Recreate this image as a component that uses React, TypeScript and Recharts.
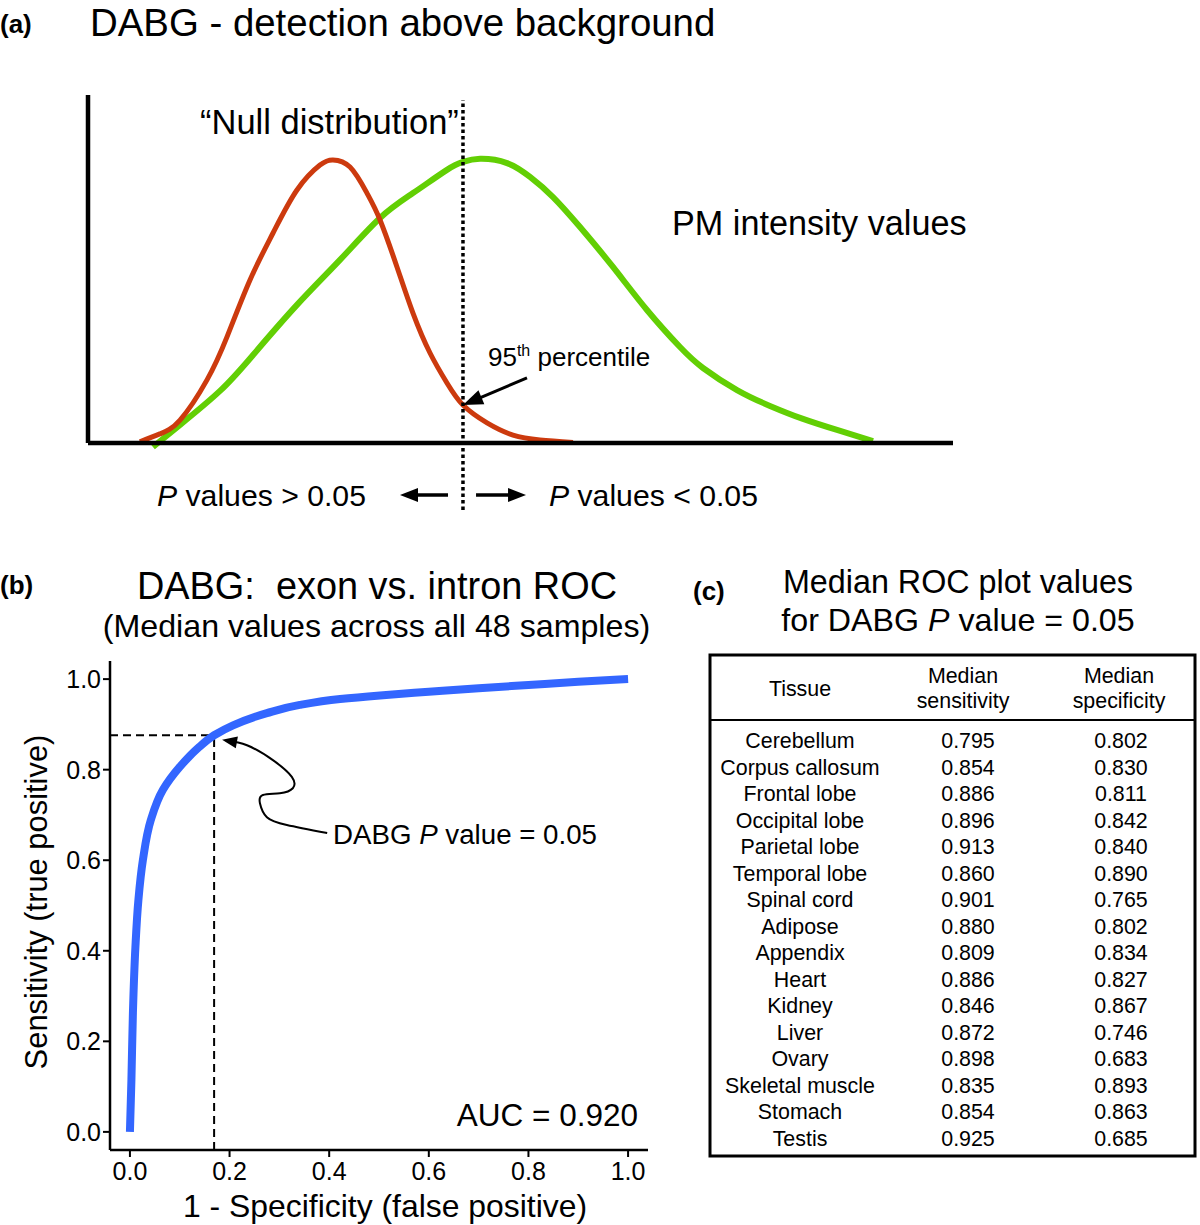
import React from 'react';
import { LineChart, Line, XAxis, YAxis, ReferenceLine, ReferenceDot } from 'recharts';

const FONT = '"Liberation Sans", Arial, Helvetica, sans-serif';

// ---------- Panel (a): density curves (arbitrary intensity units, normalised density) ----------
const intensityNull = [0.6, 0.83, 1.064, 1.376, 1.607, 1.873, 2.139, 2.416, 2.682, 2.832, 3.029, 3.225, 3.376, 3.572, 3.757, 3.954, 4.15, 4.335, 4.613, 4.913, 5.225, 5.607];
const densityNull = [0.004, 0.032, 0.081, 0.223, 0.375, 0.576, 0.742, 0.894, 0.982, 1.0, 0.975, 0.883, 0.788, 0.622, 0.459, 0.318, 0.212, 0.134, 0.071, 0.028, 0.011, 0.002];
const intensityPM = [0.751, 1.064, 1.526, 1.908, 2.416, 2.913, 3.376, 3.757, 4.15, 4.335, 4.532, 4.844, 5.11, 5.376, 5.688, 6.069, 6.462, 6.844, 7.11, 7.503, 7.884, 8.266, 8.659, 9.075];
const densityPM = [-0.014, 0.064, 0.184, 0.311, 0.488, 0.647, 0.795, 0.883, 0.965, 0.993, 1.004, 0.989, 0.94, 0.869, 0.763, 0.622, 0.47, 0.339, 0.265, 0.187, 0.131, 0.085, 0.046, 0.007];
const percentile95 = 4.335;
const percentile95Density = 0.134;

// ---------- Panel (b): ROC curve ----------
const rocFPR = [0, 0.003, 0.006, 0.011, 0.017, 0.026, 0.042, 0.066, 0.1, 0.139, 0.169, 0.207, 0.275, 0.341, 0.422, 0.502, 0.6, 0.7, 0.8, 0.9, 1.0];
const rocTPR = [0, 0.115, 0.263, 0.408, 0.512, 0.6, 0.689, 0.755, 0.806, 0.85, 0.876, 0.898, 0.925, 0.943, 0.956, 0.964, 0.972, 0.98, 0.987, 0.994, 1.0];
const cutoffFPR = 0.169;
const cutoffTPR = 0.876;
const rocTicks = [0, 0.2, 0.4, 0.6, 0.8, 1.0];
const calloutFPR = [0.396, 0.315, 0.275, 0.261, 0.267, 0.301, 0.327, 0.325, 0.287, 0.235, 0.195];
const calloutTPR = [0.66, 0.678, 0.695, 0.726, 0.744, 0.748, 0.759, 0.784, 0.821, 0.854, 0.864];
const calloutTipFPR = 0.185;
const calloutTipTPR = 0.866;

// ---------- Panel (c): table ----------
const tissues = ['Cerebellum', 'Corpus callosum', 'Frontal lobe', 'Occipital lobe', 'Parietal lobe', 'Temporal lobe', 'Spinal cord', 'Adipose', 'Appendix', 'Heart', 'Kidney', 'Liver', 'Ovary', 'Skeletal muscle', 'Stomach', 'Testis'];
const medianSensitivity = [0.795, 0.854, 0.886, 0.896, 0.913, 0.86, 0.901, 0.88, 0.809, 0.886, 0.846, 0.872, 0.898, 0.835, 0.854, 0.925];
const medianSpecificity = [0.802, 0.83, 0.811, 0.842, 0.84, 0.89, 0.765, 0.802, 0.834, 0.827, 0.867, 0.746, 0.683, 0.893, 0.863, 0.685];

const nullData = intensityNull.map((x, i) => ({ x, y: densityNull[i] }));
const pmData = intensityPM.map((x, i) => ({ x, y: densityPM[i] }));
const rocData = rocFPR.map((x, i) => ({ x, y: rocTPR[i] }));
const calloutData = calloutFPR.map((x, i) => ({ x, y: calloutTPR[i] }));

const RED = '#cc3a0e';
const GREEN = '#62cf04';
const BLUE = '#3366ff';

const arrowHead = (angle: number, len = 16, w = 12) => (props: any) => {
  const { cx, cy } = props;
  if (cx == null || cy == null) return <g />;
  return (
    <polygon
      points={`0,0 ${-len},${-w / 2} ${-len},${w / 2}`}
      transform={`translate(${cx},${cy}) rotate(${angle})`}
      fill="#000"
    />
  );
};

const PanelA = () => (
  <div style={{ position: 'absolute', left: 0, top: 0 }}>
    <LineChart width={1200} height={540} margin={{ top: 90, right: 247, bottom: 20, left: 88 }}>
      <XAxis type="number" dataKey="x" domain={[0, 10]} hide allowDataOverflow />
      <YAxis type="number" domain={[-0.2721, 1.2473]} hide allowDataOverflow />
      <Line data={pmData} dataKey="y" type="natural" stroke={GREEN} strokeWidth={6} dot={false} activeDot={false} isAnimationActive={false} />
      <Line data={nullData} dataKey="y" type="natural" stroke={RED} strokeWidth={5} dot={false} activeDot={false} isAnimationActive={false} />
      <ReferenceLine segment={[{ x: 0, y: 0 }, { x: 0, y: 1.23 }]} stroke="#000" strokeWidth={4.5} ifOverflow="visible" />
      <ReferenceLine segment={[{ x: 0, y: 0 }, { x: 10, y: 0 }]} stroke="#000" strokeWidth={4.5} ifOverflow="visible" />
      <ReferenceLine segment={[{ x: percentile95, y: -0.237 }, { x: percentile95, y: 1.212 }]} stroke="#000" strokeWidth={3.5} strokeDasharray="3.5 3" ifOverflow="visible" />
      <ReferenceLine segment={[{ x: 5.075, y: 0.2297 }, { x: percentile95 + 0.12, y: percentile95Density + 0.016 }]} stroke="#000" strokeWidth={3} ifOverflow="visible" />
      <ReferenceDot x={percentile95} y={percentile95Density} r={0} shape={arrowHead(157, 20, 15)} ifOverflow="visible" />
      <ReferenceLine segment={[{ x: 4.162, y: -0.1837 }, { x: 3.75, y: -0.1837 }]} stroke="#000" strokeWidth={3.5} ifOverflow="visible" />
      <ReferenceDot x={3.607} y={-0.1837} r={0} shape={arrowHead(180, 18, 14)} ifOverflow="visible" />
      <ReferenceLine segment={[{ x: 4.486, y: -0.1837 }, { x: 4.92, y: -0.1837 }]} stroke="#000" strokeWidth={3.5} ifOverflow="visible" />
      <ReferenceDot x={5.064} y={-0.1837} r={0} shape={arrowHead(0, 18, 14)} ifOverflow="visible" />
    </LineChart>
  </div>
);

const axisTick = { fontSize: 25, fill: '#000', fontFamily: FONT };

const PanelB = () => (
  <div style={{ position: 'absolute', left: 0, top: 640 }}>
    <LineChart width={700} height={580} margin={{ top: 21, right: 52, bottom: 0, left: 0 }}>
      <XAxis
        type="number"
        dataKey="x"
        domain={[-0.04, 1.04]}
        ticks={rocTicks}
        interval={0}
        tickFormatter={(v: number) => v.toFixed(1)}
        allowDataOverflow
        height={70}
        tickSize={7}
        tickMargin={5}
        tick={axisTick}
        axisLine={{ stroke: '#000', strokeWidth: 2.5 }}
        tickLine={{ stroke: '#000', strokeWidth: 2 }}
      />
      <YAxis
        type="number"
        domain={[-0.04, 1.04]}
        ticks={rocTicks}
        interval={0}
        tickFormatter={(v: number) => v.toFixed(1)}
        allowDataOverflow
        width={110}
        tickSize={7}
        tick={axisTick}
        axisLine={{ stroke: '#000', strokeWidth: 2.5 }}
        tickLine={{ stroke: '#000', strokeWidth: 2 }}
      />
      <ReferenceLine segment={[{ x: -0.04, y: cutoffTPR }, { x: cutoffFPR, y: cutoffTPR }]} stroke="#000" strokeWidth={2} strokeDasharray="8 5" />
      <ReferenceLine segment={[{ x: cutoffFPR, y: -0.04 }, { x: cutoffFPR, y: cutoffTPR }]} stroke="#000" strokeWidth={2} strokeDasharray="8 5" />
      <Line data={rocData} dataKey="y" type="monotoneY" stroke={BLUE} strokeWidth={8} dot={false} activeDot={false} isAnimationActive={false} />
      <Line data={calloutData} dataKey="y" type="natural" stroke="#000" strokeWidth={2} dot={false} activeDot={false} isAnimationActive={false} />
      <ReferenceDot x={calloutTipFPR} y={calloutTipTPR} r={0} shape={arrowHead(190, 15, 12)} ifOverflow="visible" />
    </LineChart>
  </div>
);

const Overlay = () => {
  const rowY0 = 748;
  const rowStep = 26.53;
  return (
    <svg width={1200} height={1225} style={{ position: 'absolute', left: 0, top: 0, pointerEvents: 'none' }} fontFamily={FONT}>
      {/* Panel (a) */}
      <text x={0} y={33} fontSize={26} fontWeight="bold">(a)</text>
      <text x={90} y={36} fontSize={38.4}>DABG - detection above background</text>
      <text x={200} y={134} fontSize={34.5}>“Null distribution”</text>
      <text x={672} y={235} fontSize={34.2}>PM intensity values</text>
      <text x={488} y={366} fontSize={26}>
        95<tspan fontSize={16} dy={-10}>th</tspan>
        <tspan dy={10}> percentile</tspan>
      </text>
      <text x={157} y={506} fontSize={30.2}>
        <tspan fontStyle="italic">P</tspan> values &gt; 0.05
      </text>
      <text x={549} y={506} fontSize={30.2}>
        <tspan fontStyle="italic">P</tspan> values &lt; 0.05
      </text>

      {/* Panel (b) */}
      <text x={0} y={594} fontSize={26} fontWeight="bold">(b)</text>
      <text x={377} y={599} fontSize={37.9} textAnchor="middle" style={{ whiteSpace: 'pre' }}>DABG:  exon vs. intron ROC</text>
      <text x={376.5} y={637} fontSize={32.2} textAnchor="middle">(Median values across all 48 samples)</text>
      <text x={333} y={844} fontSize={27.7}>
        DABG <tspan fontStyle="italic">P</tspan> value = 0.05
      </text>
      <text x={638} y={1126} fontSize={31.5} textAnchor="end">AUC = 0.920</text>
      <text x={385} y={1217} fontSize={31.9} textAnchor="middle">1 - Specificity (false positive)</text>
      <text x={47} y={902} fontSize={30.9} textAnchor="middle" transform="rotate(-90 47 902)">Sensitivity (true positive)</text>

      {/* Panel (c) */}
      <text x={693} y={600} fontSize={26} fontWeight="bold">(c)</text>
      <text x={958} y={593} fontSize={32.3} textAnchor="middle">Median ROC plot values</text>
      <text x={958} y={631} fontSize={32.2} textAnchor="middle">
        for DABG <tspan fontStyle="italic">P</tspan> value = 0.05
      </text>
      <rect x={710} y={655} width={485} height={501} fill="none" stroke="#000" strokeWidth={3} />
      <line x1={710} y1={720} x2={1195} y2={720} stroke="#000" strokeWidth={2} />
      <text x={800} y={696} fontSize={21.4} textAnchor="middle">Tissue</text>
      <text x={963} y={683} fontSize={21.4} textAnchor="middle">Median</text>
      <text x={963} y={708} fontSize={21.4} textAnchor="middle">sensitivity</text>
      <text x={1119} y={683} fontSize={21.4} textAnchor="middle">Median</text>
      <text x={1119} y={708} fontSize={21.4} textAnchor="middle">specificity</text>
      {tissues.map((t, i) => (
        <g key={t} fontSize={21.4}>
          <text x={800} y={rowY0 + i * rowStep} textAnchor="middle">{t}</text>
          <text x={968} y={rowY0 + i * rowStep} textAnchor="middle">{medianSensitivity[i].toFixed(3)}</text>
          <text x={1121} y={rowY0 + i * rowStep} textAnchor="middle">{medianSpecificity[i].toFixed(3)}</text>
        </g>
      ))}
    </svg>
  );
};

export default function App() {
  return (
    <div style={{ position: 'absolute', left: 0, top: 0, width: 1200, height: 1225, background: '#fff', fontFamily: FONT, overflow: 'hidden' }}>
      <PanelA />
      <PanelB />
      <Overlay />
    </div>
  );
}
